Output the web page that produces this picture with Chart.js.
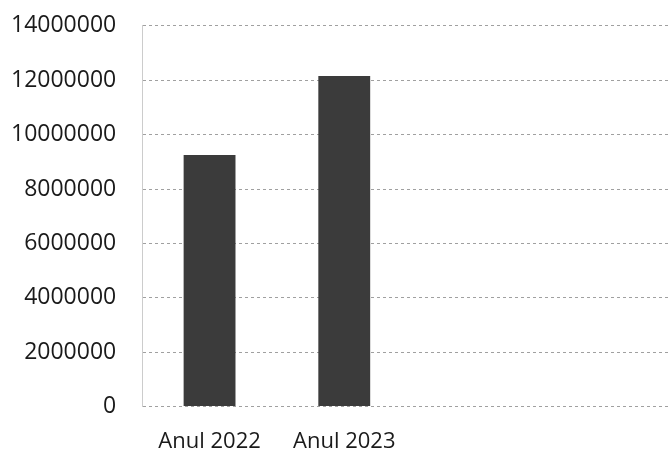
<!DOCTYPE html>
<html>
<head>
<meta charset="utf-8">
<script src="https://cdn.jsdelivr.net/npm/chart.js@4"></script>
<style>
html,body{margin:0;padding:0;background:#fff;overflow:hidden;width:669px;height:451px;}
#wrap{width:715px;height:491px;margin-left:-25px;margin-top:-14px;}
</style>
</head>
<body>
<div id="wrap"><canvas id="c" width="715" height="491"></canvas></div>
<script>
const categories = ["Anul 2022", "Anul 2023", "", ""];
const values = [9250000, 12150000, null, null];
const yTicks = [0, 2000000, 4000000, 6000000, 8000000, 10000000, 12000000, 14000000];

new Chart(document.getElementById('c'), {
  type: 'bar',
  data: {
    labels: categories,
    datasets: [{
      data: values,
      backgroundColor: '#3b3b3b',
      borderWidth: 0,
      categoryPercentage: 0.77,
      barPercentage: 0.5
    }]
  },
  options: {
    responsive: false,
    animation: false,
    layout: { padding: { top: 0, right: 9, left: 10, bottom: 0 } },
    plugins: { legend: { display: false }, tooltip: { enabled: false } },
    scales: {
      x: {
        grid: { display: false, drawTicks: false },
        border: { display: false },
        ticks: { color: '#1a1a1a', font: { family: 'Open Sans', size: 22 }, padding: 22, maxRotation: 0 }
      },
      y: {
        min: 0, max: 14000000,
        afterBuildTicks: (axis) => { axis.ticks = yTicks.map(v => ({ value: v })); },
        grid: { color: '#a0a0a0', lineWidth: 1, drawTicks: false },
        border: { display: true, dash: [3, 3], color: '#cccccc' },
        ticks: { color: '#1a1a1a', font: { family: 'Open Sans', size: 23 }, padding: 26, callback: v => String(v) }
      }
    }
  }
});
</script>
</body>
</html>
